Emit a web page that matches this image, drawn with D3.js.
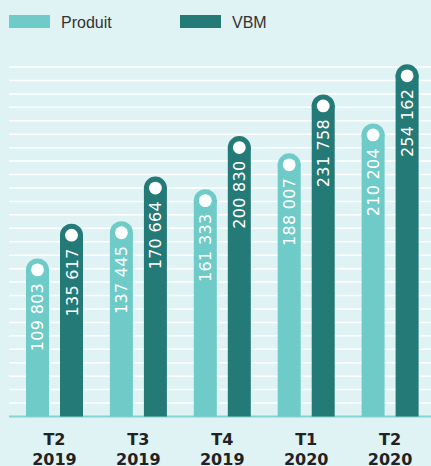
<!DOCTYPE html>
<meta charset="utf-8">
<style>
body {margin: 0; background: #dff2f4;}
svg {display: block; font-family: "Liberation Sans", Arial, sans-serif;}
.legend text {font-size: 16px; fill: #333;}
.val {font-family: "DejaVu Sans", sans-serif; font-size: 16px; fill: #fff; letter-spacing: 0.3px;}
.xlab {font-family: "DejaVu Sans", sans-serif; font-size: 16px; font-weight: bold; fill: #222; text-anchor: middle;}
</style>
<body>
<script src="https://d3js.org/d3.v7.min.js"></script>
<div id="chart"></div>
</body>
<script>
// data
var quarters = ["T2", "T3", "T4", "T1", "T2"];
var years = ["2019", "2019", "2019", "2020", "2020"];
var series = ["Produit", "VBM"];
var produit = [109803, 137445, 161333, 188007, 210204];
var vbm = [135617, 170664, 200830, 231758, 254162];
var colors = ["#6ecbc8", "#247a77"];

var width = 431, height = 466, base = 416.5;

var svg = d3.select("#chart").append("svg")
    .attr("width", width)
    .attr("height", height);

svg.append("rect").attr("width", width).attr("height", height).attr("fill", "#dff2f4");

var x = d3.scaleBand().domain(d3.range(quarters.length)).range([12.5, 432]);
var x1 = d3.scaleBand().domain(series).range([13.5, 70.5]).paddingInner(0.324);
var y = d3.scaleLinear().domain([0, 260000]).range([base, 67]);

// gridlines every 10 000
svg.append("g").selectAll("line")
    .data(d3.range(10000, 260001, 10000))
    .enter().append("line")
    .attr("x1", 9).attr("x2", width)
    .attr("y1", function(d) { return y(d); })
    .attr("y2", function(d) { return y(d); })
    .attr("stroke", "#fff").attr("stroke-width", 1.5);

svg.append("line")
    .attr("x1", 9).attr("x2", width)
    .attr("y1", base).attr("y2", base)
    .attr("stroke", "#86d3d1").attr("stroke-width", 2);

// bars
var rows = [];
quarters.forEach(function(q, i) {
  rows.push({i: i, s: "Produit", v: produit[i], c: colors[0]});
  rows.push({i: i, s: "VBM", v: vbm[i], c: colors[1]});
});

var w = x1.bandwidth();
var bar = svg.append("g").selectAll("g").data(rows).enter().append("g")
    .attr("transform", function(d) { return "translate(" + (x(d.i) + x1(d.s)) + ",0)"; });

bar.append("rect")
    .attr("x", 0).attr("width", w)
    .attr("y", function(d) { return y(d.v); })
    .attr("height", function(d) { return base - y(d.v); })
    .attr("fill", function(d) { return d.c; });

bar.append("circle")
    .attr("cx", w / 2).attr("cy", function(d) { return y(d.v) + 1; })
    .attr("r", w / 2)
    .attr("fill", function(d) { return d.c; });

bar.append("circle")
    .attr("cx", w / 2).attr("cy", function(d) { return y(d.v) + 1; })
    .attr("r", 6.4)
    .attr("fill", "#fff");

bar.append("text")
    .attr("class", "val")
    .attr("transform", function(d) { return "translate(" + (w / 2 + 6) + "," + (y(d.v) + 14) + ") rotate(-90)"; })
    .attr("text-anchor", "end")
    .text(function(d) { return d3.format(",")(d.v).replace(",", " "); });

// x labels
var xl = svg.append("g").selectAll("text").data(quarters).enter().append("text")
    .attr("class", "xlab")
    .attr("x", function(d, i) { return x(i) + x.bandwidth() / 2; })
    .attr("y", 445);
xl.append("tspan").text(function(d) { return d; });
xl.append("tspan")
    .attr("x", function(d, i) { return x(i) + x.bandwidth() / 2; })
    .attr("y", 465)
    .text(function(d, i) { return years[i]; });

// legend
var lg = svg.append("g").attr("class", "legend");
[9, 180].forEach(function(lx, i) {
  lg.append("rect").attr("x", lx).attr("y", 15).attr("width", 41).attr("height", 13).attr("fill", colors[i]);
  lg.append("text").attr("x", lx + 52).attr("y", 28).text(series[i]);
});
</script>
